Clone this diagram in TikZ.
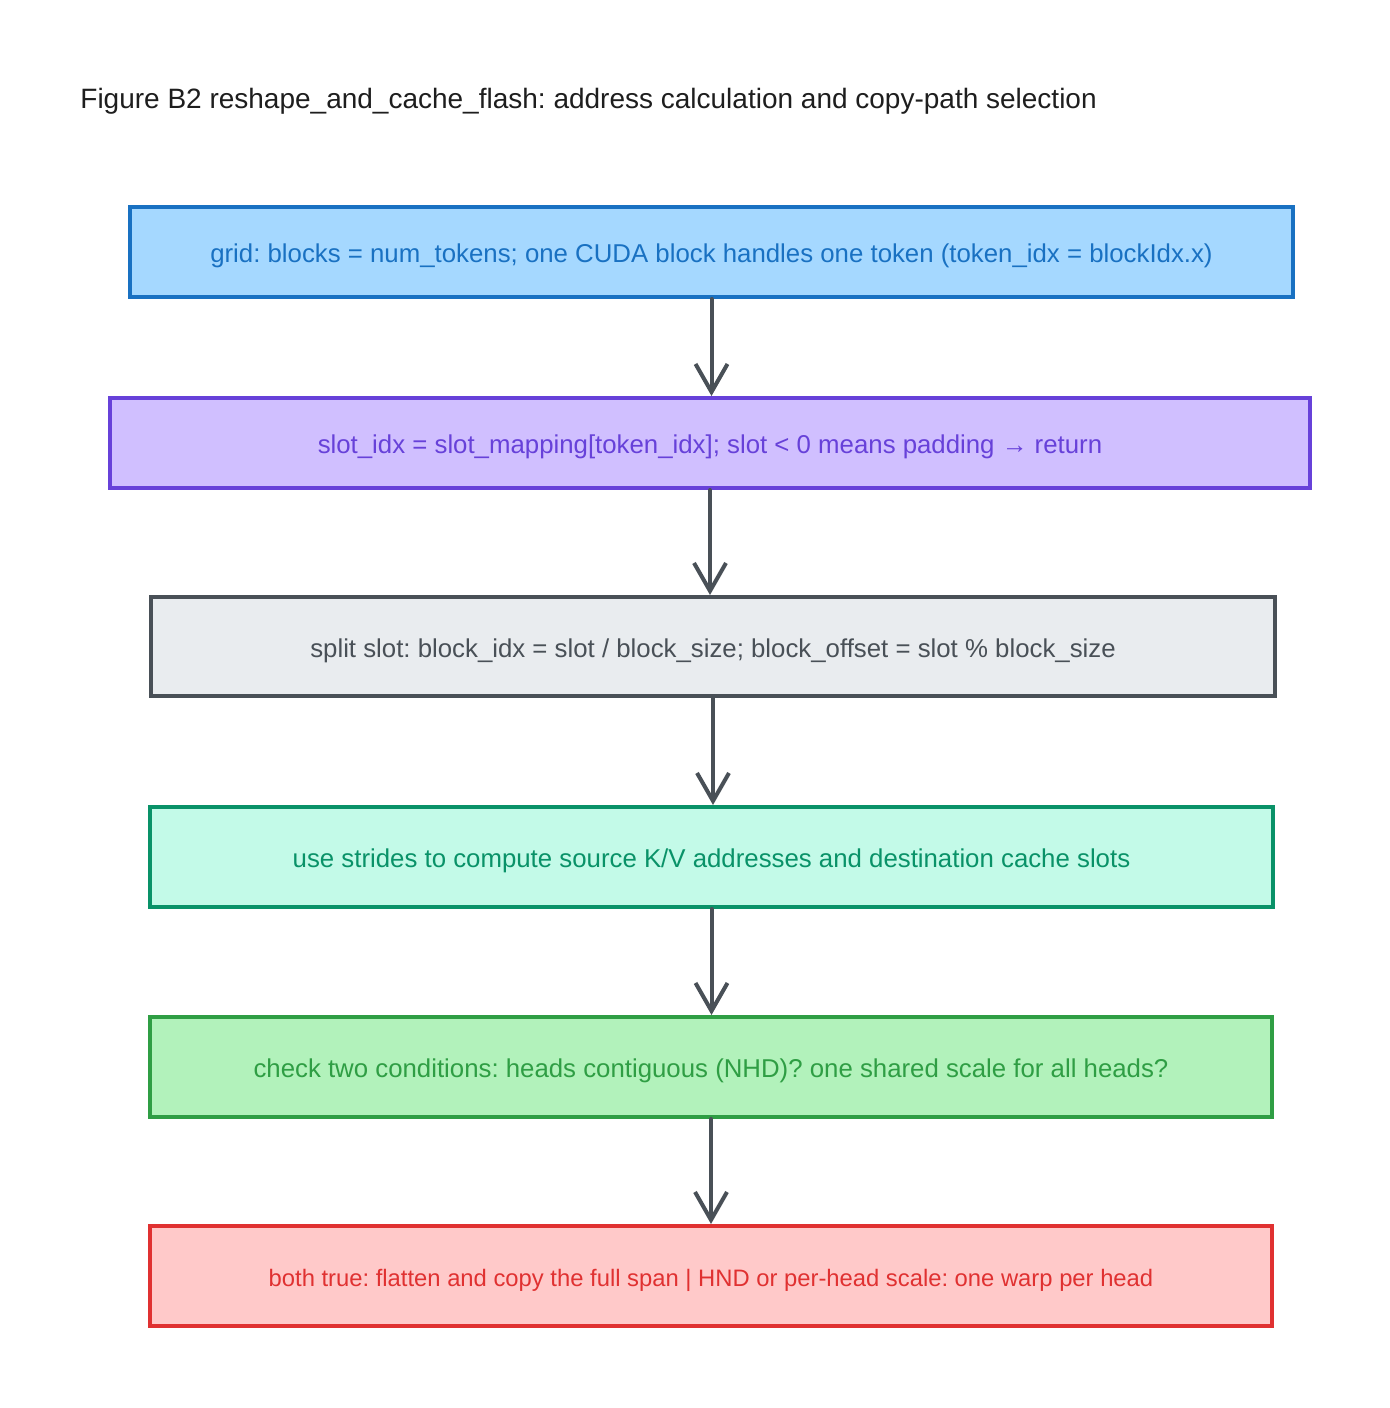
\documentclass[tikz,border=0pt]{standalone}
\usepackage{fontspec}
\setmainfont{Liberation Sans}
\usetikzlibrary{arrows.meta}
\definecolor{bluefill}{HTML}{A5D8FF}\definecolor{bluestroke}{HTML}{1971C2}
\definecolor{purpfill}{HTML}{D0BFFF}\definecolor{purpstroke}{HTML}{6741D9}
\definecolor{grayfill}{HTML}{E9ECEF}\definecolor{graystroke}{HTML}{495057}
\definecolor{tealfill}{HTML}{C3FAE8}\definecolor{tealstroke}{HTML}{099268}
\definecolor{greenfill}{HTML}{B2F2BB}\definecolor{greenstroke}{HTML}{2F9E44}
\definecolor{redfill}{HTML}{FFC9C9}\definecolor{redstroke}{HTML}{E03131}
\definecolor{titlecol}{HTML}{1E1E1E}
\begin{document}
\frenchspacing
\begin{tikzpicture}[x=0.5pt,y=-0.5pt,
  box/.style={draw, line width=2pt, inner sep=0pt, text height=13pt, text depth=2.5pt, font=\fontsize{12.9}{15}\selectfont},
  arr/.style={draw=graystroke, line width=2pt, line cap=round, -{Straight Barb[length=14pt,width=16pt,line width=2pt]}}]
\useasboundingbox (0,0) rectangle (1390,1408);
\node[anchor=base west, inner sep=0pt, text=titlecol, font=\fontsize{14}{16}\selectfont] (title) at (80,108) {Figure B2 reshape\_and\_cache\_flash: address calculation and copy-path selection};
\node[box, fill=bluefill, draw=bluestroke, text=bluestroke, minimum width=581.5pt, minimum height=45pt] (b1) at (711.5,252) {grid: blocks = num\_tokens; one CUDA block handles one token (token\_idx = blockIdx.x)};
\node[box, fill=purpfill, draw=purpstroke, text=purpstroke, minimum width=600pt, minimum height=45pt] (b2) at (710,443) {slot\_idx = slot\_mapping[token\_idx]; slot < 0 means padding → return};
\node[box, fill=grayfill, draw=graystroke, text=graystroke, minimum width=562pt, minimum height=49.5pt] (b3) at (713,646.5) {split slot: block\_idx = slot / block\_size; block\_offset = slot \% block\_size};
\node[box, fill=tealfill, draw=tealstroke, text=tealstroke, minimum width=561.5pt, minimum height=50pt] (b4) at (711.5,857) {use strides to compute source K/V addresses and destination cache slots};
\node[box, fill=greenfill, draw=greenstroke, text=greenstroke, minimum width=561pt, minimum height=50pt] (b5) at (711,1067) {check two conditions: heads contiguous (NHD)? one shared scale for all heads?};
\node[box, fill=redfill, draw=redstroke, text=redstroke, minimum width=561pt, minimum height=50pt, font=\fontsize{11.9}{14}\selectfont] (b6) at (711,1276) {both true: flatten and copy the full span | HND or per-head scale: one warp per head};
\draw[arr] (b1.south) -- (b1.south |- b2.north);
\draw[arr] (b2.south) -- (b2.south |- b3.north);
\draw[arr] (b3.south) -- (b3.south |- b4.north);
\draw[arr] (b4.south) -- (b4.south |- b5.north);
\draw[arr] (b5.south) -- (b5.south |- b6.north);
\end{tikzpicture}
\end{document}
